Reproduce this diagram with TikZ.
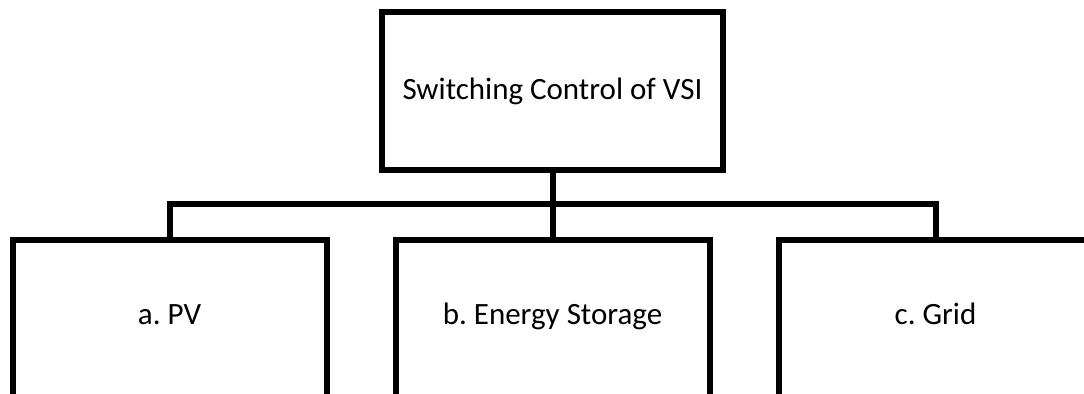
\documentclass[tikz,border=0pt]{standalone}
\usepackage{fontspec}
\setmainfont{Carlito}
\usetikzlibrary{positioning}
\frenchspacing

\begin{document}
\begin{tikzpicture}[x=0.5pt,y=-0.5pt,line width=3pt,font=\fontsize{15.5}{18}\selectfont,
  ctrl/.style={draw,minimum width=170.5pt,minimum height=78.75pt,inner sep=0pt},
  src/.style={draw,minimum width=157pt,text height=42.5pt,text depth=47.5pt,inner ysep=0pt}]
  \clip (0,0) rectangle (1084,394);
  \node[ctrl] (vsi) at (552.5,91.25) {Switching Control of VSI};
  \node[src,below=32pt of vsi] (ess) {b. Energy Storage};
  \node[src,left=31.5pt of ess] (pv) {a. PV};
  \node[src,right=31.5pt of ess] (grid) {c. Grid};
  \coordinate (bus) at (552.5,204);
  \draw (vsi.south) -- (ess.north);
  \draw (pv.north) |- (bus) -| (grid.north);
\end{tikzpicture}
\end{document}
